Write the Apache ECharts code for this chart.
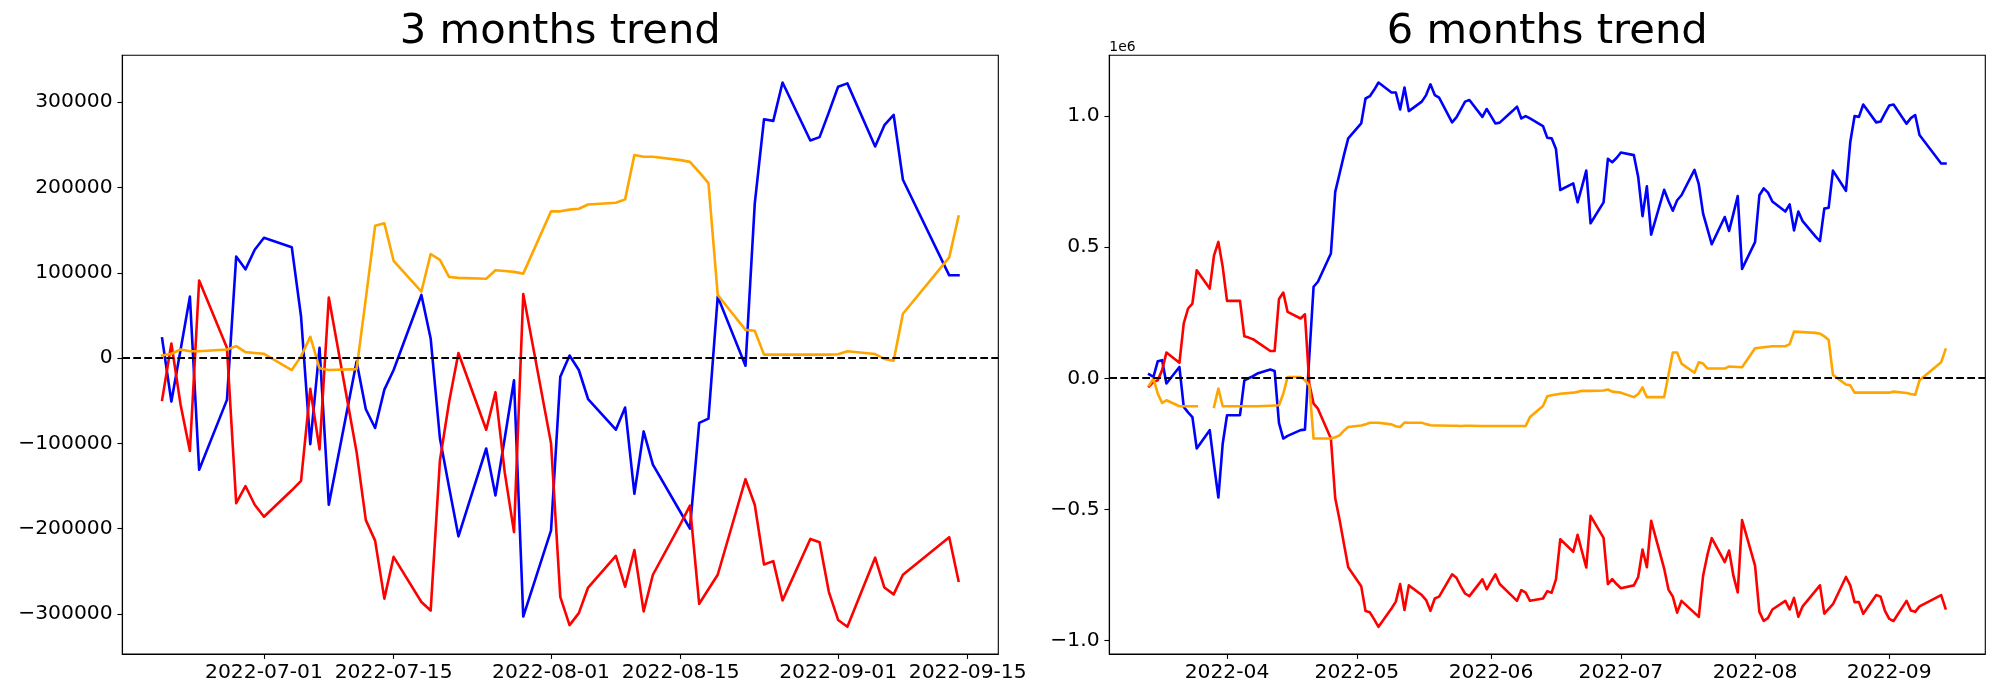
<!DOCTYPE html>
<html><head><meta charset="utf-8">
<script src="https://cdn.jsdelivr.net/npm/echarts@6/dist/echarts.min.js"></script>
<style>html,body{margin:0;padding:0;background:#fff}#c{width:2000px;height:700px}</style>
</head><body><div id="c"></div>
<script>
// ---------- 3 months data ----------
const dates3m = ['2022-06-20','2022-06-21','2022-06-22','2022-06-23','2022-06-24','2022-06-27','2022-06-28','2022-06-29','2022-06-30','2022-07-01',
 '2022-07-04','2022-07-05','2022-07-06','2022-07-07','2022-07-08','2022-07-11','2022-07-12','2022-07-13','2022-07-14','2022-07-15',
 '2022-07-18','2022-07-19','2022-07-20','2022-07-21','2022-07-22','2022-07-25','2022-07-26','2022-07-27','2022-07-28','2022-07-29',
 '2022-08-01','2022-08-02','2022-08-03','2022-08-04','2022-08-05','2022-08-08','2022-08-09','2022-08-10','2022-08-11','2022-08-12',
 '2022-08-15','2022-08-16','2022-08-17','2022-08-18','2022-08-19','2022-08-22','2022-08-23','2022-08-24','2022-08-25','2022-08-26',
 '2022-08-29','2022-08-30','2022-08-31','2022-09-01','2022-09-02','2022-09-05','2022-09-06','2022-09-07','2022-09-08','2022-09-13','2022-09-14'];
const blue3m = [23000,-51000,10000,72000,-131000,-49000,119000,104000,127000,141000,
 130000,49000,-101000,12000,-172000,-4000,-60000,-82000,-37000,-14000,
 74000,23000,-94000,-152000,-209000,-106000,-161000,-94000,-26000,-303000,
 -202000,-22000,3000,-14000,-48000,-84000,-58000,-159000,-86000,-125000,
 -181000,-200000,-76000,-71000,72000,-9000,181000,280000,278000,323000,
 255000,259000,288000,318000,322000,248000,273000,285000,209000,97000,97000];
const red3m = [-49000,17000,-55000,-109000,91000,12000,-170000,-150000,-172000,-186000,
 -155000,-144000,-36000,-107000,71000,-110000,-190000,-214000,-282000,-233000,
 -286000,-296000,-120000,-51000,6000,-84000,-40000,-134000,-204000,75000,
 -100000,-280000,-313000,-299000,-269000,-232000,-268000,-225000,-297000,-254000,
 -194000,-173000,-288000,-271000,-254000,-142000,-172000,-242000,-238000,-284000,
 -212000,-216000,-274000,-307000,-315000,-234000,-269000,-277000,-254000,-210000,-261000];
const orange3m = [3000,5000,10000,8000,8000,10000,14000,7000,6000,5000,
 -14000,2000,25000,-12000,-14000,-13000,70000,155000,158000,114000,
 78000,122000,115000,95000,94000,93000,103000,102000,101000,99000,
 172000,172000,174000,175000,180000,182000,186000,238000,236000,236000,
 232000,230000,218000,205000,74000,33000,32000,4000,4000,4000,
 4000,4000,4000,4500,8000,4700,-1000,-3000,52000,118000,166000];
const xTicks3m = ['2022-07-01','2022-07-15','2022-08-01','2022-08-15','2022-09-01','2022-09-15'];
const yTicks3m = [-300000,-200000,-100000,0,100000,200000,300000];

// ---------- 6 months data (values in units of 1e6) ----------
const dates6m = ['2022-03-14','2022-03-15','2022-03-16','2022-03-17','2022-03-18','2022-03-21','2022-03-22','2022-03-23','2022-03-24','2022-03-25','2022-03-28','2022-03-29','2022-03-30','2022-03-31',
 '2022-04-01','2022-04-04','2022-04-05','2022-04-06','2022-04-07','2022-04-08','2022-04-11','2022-04-12','2022-04-13','2022-04-14','2022-04-15','2022-04-18','2022-04-19','2022-04-20','2022-04-21','2022-04-22','2022-04-25','2022-04-26','2022-04-27','2022-04-28','2022-04-29',
 '2022-05-02','2022-05-03','2022-05-04','2022-05-05','2022-05-06','2022-05-09','2022-05-10','2022-05-11','2022-05-12','2022-05-13','2022-05-16','2022-05-17','2022-05-18','2022-05-19','2022-05-20','2022-05-23','2022-05-24','2022-05-25','2022-05-26','2022-05-27','2022-05-30','2022-05-31',
 '2022-06-01','2022-06-02','2022-06-03','2022-06-06','2022-06-07','2022-06-08','2022-06-09','2022-06-10','2022-06-13','2022-06-14','2022-06-15','2022-06-16','2022-06-17','2022-06-20','2022-06-21','2022-06-22','2022-06-23','2022-06-24','2022-06-27','2022-06-28','2022-06-29','2022-06-30',
 '2022-07-01','2022-07-04','2022-07-05','2022-07-06','2022-07-07','2022-07-08','2022-07-11','2022-07-12','2022-07-13','2022-07-14','2022-07-15','2022-07-18','2022-07-19','2022-07-20','2022-07-21','2022-07-22','2022-07-25','2022-07-26','2022-07-27','2022-07-28','2022-07-29',
 '2022-08-01','2022-08-02','2022-08-03','2022-08-04','2022-08-05','2022-08-08','2022-08-09','2022-08-10','2022-08-11','2022-08-12','2022-08-15','2022-08-16','2022-08-17','2022-08-18','2022-08-19','2022-08-22','2022-08-23','2022-08-24','2022-08-25','2022-08-26','2022-08-29','2022-08-30','2022-08-31',
 '2022-09-01','2022-09-02','2022-09-05','2022-09-06','2022-09-07','2022-09-08','2022-09-13','2022-09-14'];
const blue6m = [0.015,0.005,0.065,0.069,-0.02,0.043,-0.109,-0.13,-0.148,-0.268,-0.198,-0.33,-0.455,-0.25,
 -0.141,-0.141,-0.008,0.0,0.008,0.018,0.033,0.028,-0.17,-0.23,-0.22,-0.198,-0.196,0.08,0.349,0.368,0.476,0.711,0.78,0.85,0.915,
 0.972,1.067,1.076,1.10,1.128,1.09,1.09,1.025,1.109,1.019,1.055,1.08,1.121,1.08,1.07,0.976,0.995,1.025,1.055,1.061,0.997,1.027,
 1.0,0.972,0.975,1.02,1.036,0.991,1.0,0.991,0.962,0.917,0.915,0.874,0.718,0.743,0.671,0.73,0.792,0.591,0.671,0.837,0.824,0.84,
 0.861,0.851,0.768,0.618,0.732,0.548,0.719,0.676,0.639,0.679,0.698,0.795,0.740,0.628,0.57,0.511,0.615,0.562,0.628,0.695,0.417,
 0.519,0.698,0.724,0.708,0.674,0.636,0.663,0.564,0.636,0.599,0.54,0.523,0.647,0.650,0.792,0.715,0.901,1.0,0.997,1.044,0.976,0.979,1.01,
 1.04,1.044,0.971,0.992,1.004,0.928,0.819,0.819];
const red6m = [-0.031,-0.014,-0.008,0.031,0.098,0.059,0.209,0.266,0.285,0.412,0.342,0.469,0.52,0.425,
 0.295,0.295,0.16,0.155,0.149,0.138,0.104,0.104,0.302,0.327,0.253,0.228,0.244,-0.02,-0.097,-0.116,-0.23,-0.458,-0.54,-0.63,-0.721,
 -0.793,-0.888,-0.893,-0.92,-0.948,-0.878,-0.852,-0.785,-0.884,-0.79,-0.827,-0.846,-0.887,-0.84,-0.833,-0.748,-0.761,-0.793,-0.821,-0.831,-0.767,-0.805,
 -0.776,-0.748,-0.785,-0.833,-0.849,-0.808,-0.818,-0.849,-0.84,-0.812,-0.818,-0.767,-0.614,-0.662,-0.597,-0.66,-0.722,-0.525,-0.609,-0.785,-0.766,-0.785,
 -0.801,-0.79,-0.758,-0.653,-0.721,-0.544,-0.726,-0.806,-0.833,-0.894,-0.849,-0.895,-0.910,-0.753,-0.673,-0.610,-0.701,-0.657,-0.753,-0.817,-0.541,
 -0.715,-0.891,-0.926,-0.914,-0.882,-0.849,-0.882,-0.838,-0.910,-0.870,-0.81,-0.790,-0.898,-0.88,-0.862,-0.758,-0.790,-0.854,-0.854,-0.898,-0.827,-0.833,-0.886,
 -0.918,-0.926,-0.849,-0.886,-0.891,-0.870,-0.827,-0.878];
const orange6m = [-0.027,-0.001,-0.059,-0.094,-0.084,-0.107,-0.107,-0.107,-0.107,-0.107,null,-0.109,-0.039,-0.107,
 -0.107,-0.107,-0.107,-0.107,-0.107,-0.107,-0.105,-0.104,-0.103,-0.059,0.005,0.005,-0.008,-0.027,-0.23,-0.23,-0.23,-0.225,-0.218,-0.2,-0.186,
 -0.18,-0.176,-0.17,-0.17,-0.17,-0.176,-0.183,-0.186,-0.169,-0.17,-0.17,-0.175,-0.179,-0.18,-0.18,-0.181,-0.181,-0.182,-0.181,-0.181,-0.182,-0.182,
 -0.182,-0.182,-0.182,-0.182,-0.182,-0.182,-0.182,-0.148,-0.106,-0.069,-0.065,-0.062,-0.059,-0.055,-0.052,-0.048,-0.048,-0.048,-0.047,-0.043,-0.051,-0.053,
 -0.055,-0.072,-0.06,-0.035,-0.072,-0.072,-0.072,0.013,0.098,0.098,0.056,0.021,0.061,0.056,0.037,0.037,0.037,0.045,0.044,0.043,0.042,
 0.114,0.116,0.118,0.12,0.122,0.122,0.13,0.178,0.177,0.176,0.173,0.17,0.16,0.146,0.013,-0.024,-0.027,-0.055,-0.055,-0.055,-0.055,-0.055,-0.055,
 -0.055,-0.051,-0.056,-0.06,-0.063,-0.008,0.061,0.109];
const xTicks6m = ['2022-04-01','2022-05-01','2022-06-01','2022-07-01','2022-08-01','2022-09-01'];
const yTicks6m = [-1.0,-0.5,0.0,0.5,1.0];

// ---------- helpers ----------
function ts(s){const p=s.split('-');return Date.UTC(+p[0],+p[1]-1,+p[2]);}
function pairs(d,v){return d.map((s,i)=>[ts(s), v[i]==null?'-':v[i]]);}
function xRange(d){const a=ts(d[0]),b=ts(d[d.length-1]),m=0.05*(b-a);return [a-m,b+m];}
function yRange(arrs){let lo=Infinity,hi=-Infinity;arrs.forEach(a=>a.forEach(v=>{if(v!=null){lo=Math.min(lo,v);hi=Math.max(hi,v);}}));const m=0.05*(hi-lo);return [lo-m,hi+m];}
function pad(n){return (n<10?'0':'')+n;}
const FONT='DejaVu Sans';
const TICKFS=20.3;
const minus=s=>String(s).replace('-','\u2212');

const xr3=xRange(dates3m), xr6=xRange(dates6m);
const yr3=yRange([blue3m,red3m,orange3m]), yr6=yRange([blue6m,red6m,orange6m]);

function xAxisCfg(idx,range,ticks,fmt){
  const tv=ticks.map(ts);
  return {type:'value',gridIndex:idx,min:range[0],max:range[1],scale:true,
    axisLine:{show:true,onZero:false,lineStyle:{color:'#000',width:1.1}},
    axisTick:{show:true,length:4.9,lineStyle:{color:'#000',width:1.1},customValues:tv},
    axisLabel:{customValues:tv,formatter:fmt,fontSize:TICKFS,color:'#000',fontFamily:FONT,margin:8.5,hideOverlap:false},
    splitLine:{show:false}};
}
function yAxisCfg(idx,range,ticks,fmt){
  return {type:'value',gridIndex:idx,min:range[0],max:range[1],
    axisLine:{show:true,onZero:false,lineStyle:{color:'#000',width:1.1}},
    axisTick:{show:true,length:4.9,lineStyle:{color:'#000',width:1.1},customValues:ticks},
    axisLabel:{customValues:ticks,formatter:fmt,fontSize:TICKFS,color:'#000',fontFamily:FONT,margin:9.7},
    splitLine:{show:false}};
}
const fmtDay=v=>{const d=new Date(v);return d.getUTCFullYear()+'-'+pad(d.getUTCMonth()+1)+'-'+pad(d.getUTCDate());};
const fmtMonth=v=>{const d=new Date(v);return d.getUTCFullYear()+'-'+pad(d.getUTCMonth()+1);};

function lineSeries(idx,dates,vals,color,zeroLine){
  const s={type:'line',xAxisIndex:idx,yAxisIndex:idx,data:pairs(dates,vals),showSymbol:false,symbol:'none',
    connectNulls:false,animation:false,silent:true,
    lineStyle:{color:color,width:2.6,join:'round',cap:'square'},itemStyle:{color:color}};
  if(zeroLine){
    s.markLine={silent:true,symbol:['none','none'],animation:false,label:{show:false},
      lineStyle:{color:'#000',type:[7.7,3.3],width:2.08},data:[{yAxis:0}]};
  }
  return s;
}

const chart=echarts.init(document.getElementById('c'),null,{renderer:'canvas'});
chart.setOption({
  animation:false,
  backgroundColor:'#fff',
  title:[
    {text:'3 months trend',left:560.3,top:11.6,textAlign:'center',padding:0,
     textStyle:{fontSize:41.67,fontWeight:'normal',fontFamily:FONT,color:'#000'}},
    {text:'6 months trend',left:1547.3,top:11.6,textAlign:'center',padding:0,
     textStyle:{fontSize:41.67,fontWeight:'normal',fontFamily:FONT,color:'#000'}}
  ],
  grid:[
    {left:122.3,top:55.3,width:876,height:598.7,show:true,borderColor:'#000',borderWidth:1.1,backgroundColor:'rgba(0,0,0,0)'},
    {left:1109.3,top:55.3,width:876,height:598.7,show:true,borderColor:'#000',borderWidth:1.1,backgroundColor:'rgba(0,0,0,0)'}
  ],
  xAxis:[xAxisCfg(0,xr3,xTicks3m,fmtDay),xAxisCfg(1,xr6,xTicks6m,fmtMonth)],
  yAxis:[yAxisCfg(0,yr3,yTicks3m,v=>minus(v)),yAxisCfg(1,yr6,yTicks6m,v=>minus(v.toFixed(1)))],
  graphic:[{type:'text',left:1109.3,top:40,silent:true,style:{text:'1e6',fontSize:13.9,fontFamily:FONT,fill:'#000'}}],
  series:[
    lineSeries(0,dates3m,blue3m,'#0000ff',false),
    lineSeries(0,dates3m,red3m,'#ff0000',false),
    lineSeries(0,dates3m,orange3m,'#ffa500',true),
    lineSeries(1,dates6m,blue6m,'#0000ff',false),
    lineSeries(1,dates6m,red6m,'#ff0000',false),
    lineSeries(1,dates6m,orange6m,'#ffa500',true)
  ]
});
</script></body></html>
